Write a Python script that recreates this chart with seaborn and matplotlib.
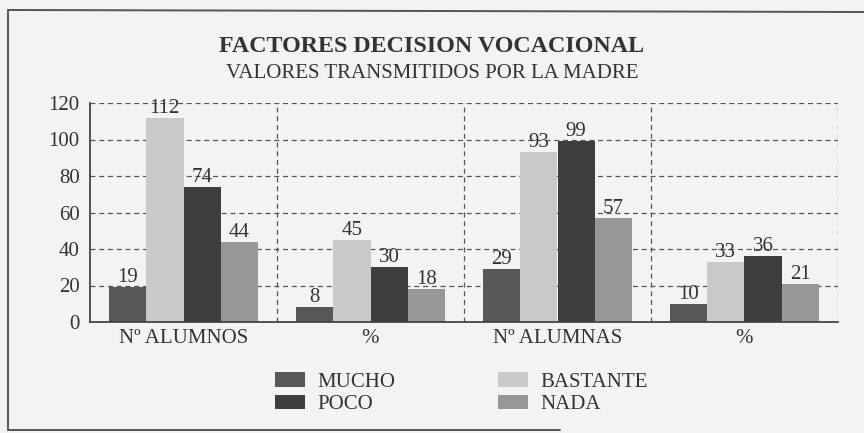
import matplotlib
matplotlib.use("Agg")
import matplotlib.pyplot as plt
from matplotlib.lines import Line2D
from matplotlib.patches import Patch
import seaborn as sns
import pandas as pd

# Categories and series
groups = ["Nº ALUMNOS", "%", "Nº ALUMNAS", "% "]
group_labels = ["Nº ALUMNOS", "%", "Nº ALUMNAS", "%"]
series = ["MUCHO", "BASTANTE", "POCO", "NADA"]
mucho = [19, 8, 29, 10]
bastante = [112, 45, 93, 33]
poco = [74, 30, 99, 36]
nada = [44, 18, 57, 21]
y_ticks = [0, 20, 40, 60, 80, 100, 120]

colors = {"MUCHO": "#575757", "BASTANTE": "#c9c9c9", "POCO": "#3e3e3e", "NADA": "#979797"}

rows = []
for name, vals in zip(series, [mucho, bastante, poco, nada]):
    for g, v in zip(groups, vals):
        rows.append({"grupo": g, "nivel": name, "valor": v})
df = pd.DataFrame(rows)

sns.set_theme(style="white")
plt.rcParams["font.family"] = ["Liberation Serif", "DejaVu Serif"]

bg = "#f3f3f2"
txt = "#333333"
fig = plt.figure(figsize=(8.64, 4.33), dpi=100, facecolor=bg)
ax = fig.add_axes([90 / 864, 1 - 322 / 433, (838 - 90) / 864, (322 - 103) / 433])
ax.set_facecolor(bg)

sns.barplot(data=df, x="grupo", y="valor", hue="nivel", order=groups,
            hue_order=series, palette=colors, width=0.8, saturation=1,
            edgecolor="none", linewidth=0, ax=ax, legend=False)

for cont in ax.containers:
    ax.bar_label(cont, fmt="%d", padding=0, fontsize=15, color=txt)

ax.set_ylim(0, 120)
ax.set_xlim(-0.5, 3.5)
ax.set_yticks(y_ticks)
ax.set_yticklabels([str(t) for t in y_ticks], fontsize=15, color=txt)
ax.set_xticks(range(4))
ax.set_xticklabels(group_labels, fontsize=15, color=txt)
ax.tick_params(axis="x", which="major", length=0, pad=5)
ax.tick_params(axis="y", which="major", direction="inout", length=9, width=1.2,
               color="#444444", pad=3)
ax.set_xticks([0.5, 1.5, 2.5, 3.5], minor=True)
ax.tick_params(axis="x", which="minor", direction="inout", length=10, width=1.2,
               color="#444444")
ax.set_xlabel("")
ax.set_ylabel("")

# Dashed grid: horizontal at each tick, vertical at group boundaries
for t in y_ticks[1:]:
    ax.axhline(t, color="#555555", lw=0.9, ls=(0, (4, 3)), zorder=0)
for b in [0.5, 1.5, 2.5, 3.5]:
    ax.axvline(b, color="#555555", lw=0.9, ls=(0, (4, 3)), zorder=0)

for side in ["top", "right"]:
    ax.spines[side].set_visible(False)
for side in ["left", "bottom"]:
    ax.spines[side].set_color("#444444")
    ax.spines[side].set_linewidth(1.3)

fig.text(0.5, 1 - 46 / 433, "FACTORES DECISION VOCACIONAL", ha="center", va="center",
         fontsize=17.3, fontweight="bold", color=txt)
fig.text(0.5, 1 - 73 / 433, "VALORES TRANSMITIDOS POR LA MADRE", ha="center",
         va="center", fontsize=15, color=txt)

# Legend in two columns
leg_order = ["MUCHO", "POCO", "BASTANTE", "NADA"]
handles = [Patch(facecolor=colors[s], edgecolor="none") for s in leg_order]
fig.legend(handles, leg_order, loc="upper left", bbox_to_anchor=(275 / 864, 1 - 372 / 433),
           ncol=2, frameon=False, fontsize=15, handlelength=1.45, handleheight=0.7,
           handletextpad=0.6, columnspacing=4.9, labelspacing=0.15, borderpad=0,
           borderaxespad=0, labelcolor=txt)

# Outer frame
fc = "#555555"
fig.add_artist(Line2D([8 / 864, 8 / 864], [1 - 10 / 433, 1 - 430 / 433], color=fc, lw=1.4,
                      transform=fig.transFigure))
fig.add_artist(Line2D([8 / 864, 1.0], [1 - 10 / 433, 1 - 12 / 433], color=fc, lw=1.4,
                      transform=fig.transFigure))
fig.add_artist(Line2D([8 / 864, 560 / 864], [1 - 430 / 433, 1 - 430 / 433], color=fc, lw=1.4,
                      transform=fig.transFigure))

fig.savefig("out.png", dpi=100, facecolor=bg)
